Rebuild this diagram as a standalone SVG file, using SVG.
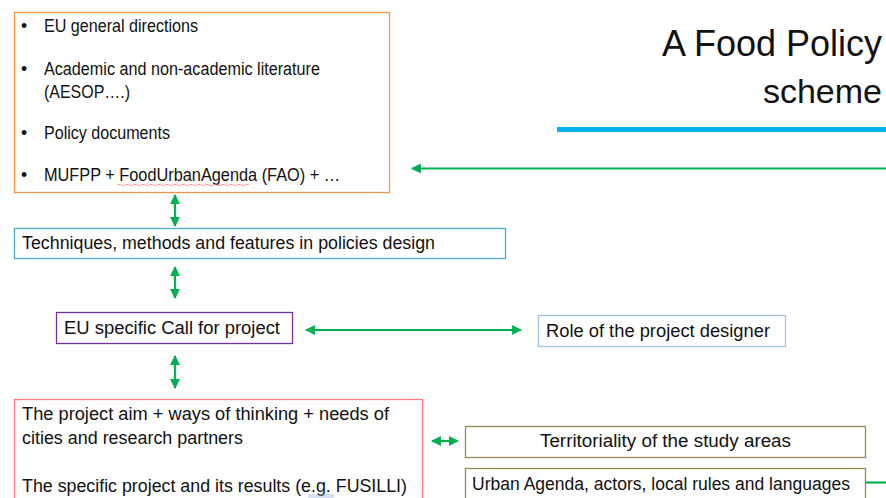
<svg xmlns="http://www.w3.org/2000/svg" width="886" height="498" viewBox="0 0 886 498">
<style>
text{font-family:"Liberation Sans","DejaVu Sans",sans-serif;font-size:17.5px;fill:#111}
.title{font-size:36px}
.box{fill:#fff;stroke-width:1.3}
.conn{stroke:#00B050;stroke-width:2.2;fill:none}
</style>
<defs>
<marker id="ah" viewBox="0 0 10 10" refX="9" refY="5" markerWidth="4.5" markerHeight="4.5" orient="auto-start-reverse" markerUnits="strokeWidth">
<path d="M0,0 L10,5 L0,10 z" fill="#00B050"/>
</marker>
</defs>
<rect width="886" height="498" fill="#fff"/>

<g id="title">
<text class="title" text-anchor="end"><tspan x="882" y="56">A Food Policy</tspan><tspan x="882" y="103" font-size="34">scheme</tspan></text>
<rect x="557" y="127" width="329" height="5" fill="#00B0F0"/>
</g>

<g id="sources">
<rect class="box" x="14.5" y="12.5" width="375" height="180" stroke="#F79646"/>
<text x="21" y="32">•</text><text x="44" y="32" textLength="154" lengthAdjust="spacingAndGlyphs">EU general directions</text>
<text x="21" y="75">•</text><text x="44" y="75" textLength="276" lengthAdjust="spacingAndGlyphs">Academic and non-academic literature</text>
<text x="44" y="98" textLength="86" lengthAdjust="spacingAndGlyphs">(AESOP….)</text>
<text x="21" y="139">•</text><text x="44" y="139" textLength="126" lengthAdjust="spacingAndGlyphs">Policy documents</text>
<text x="21" y="181">•</text><text x="44" y="181" textLength="296" lengthAdjust="spacingAndGlyphs">MUFPP + FoodUrbanAgenda (FAO) + …</text>
<path d="M117,185 q2,-1.5 4,0 t4,0 t4,0 t4,0 t4,0 t4,0 t4,0 t4,0 t4,0 t4,0 t4,0 t4,0 t4,0 t4,0 t4,0 t4,0 t4,0 t4,0 t4,0 t4,0 t4,0 t4,0 t4,0 t4,0 t4,0 t4,0 t4,0 t4,0 t4,0 t4,0 t4,0 t4,0 t4,0" stroke="#f08080" stroke-width="0.8" fill="none"/>
</g>

<g id="techniques">
<rect class="box" x="14.5" y="228.5" width="491" height="30" stroke="#4BACC6"/>
<text x="22" y="249" textLength="413" lengthAdjust="spacingAndGlyphs">Techniques, methods and features in policies design</text>
</g>

<g id="call">
<rect class="box" x="56.5" y="312.5" width="236" height="31" stroke="#7030A0" stroke-width="2"/>
<text x="64" y="334" textLength="216" lengthAdjust="spacingAndGlyphs">EU specific Call for project</text>
</g>

<g id="designer">
<rect class="box" x="538.5" y="315.5" width="247" height="31" stroke="#9DC3E6"/>
<text x="546" y="337" textLength="224" lengthAdjust="spacingAndGlyphs">Role of the project designer</text>
</g>

<g id="project">
<rect class="box" x="14.5" y="399.5" width="408" height="110" stroke="#FF7C80"/>
<text x="22" y="420" textLength="367" lengthAdjust="spacingAndGlyphs">The project aim + ways of thinking + needs of</text>
<text x="22" y="444" textLength="221" lengthAdjust="spacingAndGlyphs">cities and research partners</text>
<text x="22" y="492" textLength="385" lengthAdjust="spacingAndGlyphs">The specific project and its results (e.g. FUSILLI)</text>
<path d="M308,495 h26 M308,497 h26" stroke="#8faadc" stroke-width="0.7"/>
</g>

<g id="territoriality">
<rect class="box" x="465.5" y="426.5" width="400" height="31" stroke="#948A54"/>
<text x="540" y="447" textLength="251" lengthAdjust="spacingAndGlyphs">Territoriality of the study areas</text>
</g>

<g id="urban">
<rect class="box" x="465.5" y="468.5" width="400" height="40" stroke="#948A54"/>
<text x="472" y="490" textLength="378" lengthAdjust="spacingAndGlyphs">Urban Agenda, actors, local rules and languages</text>
</g>

<g id="connectors">
<line class="conn" x1="886" y1="168.5" x2="412" y2="168.5" marker-end="url(#ah)"/>
<line class="conn" x1="175" y1="195" x2="175" y2="226" marker-start="url(#ah)" marker-end="url(#ah)"/>
<line class="conn" x1="175" y1="267" x2="175" y2="298" marker-start="url(#ah)" marker-end="url(#ah)"/>
<line class="conn" x1="306" y1="330" x2="521" y2="330" marker-start="url(#ah)" marker-end="url(#ah)"/>
<line class="conn" x1="175" y1="356" x2="175" y2="388" marker-start="url(#ah)" marker-end="url(#ah)"/>
<line class="conn" x1="432" y1="441" x2="458" y2="441" marker-start="url(#ah)" marker-end="url(#ah)"/>
<line class="conn" x1="866" y1="482.5" x2="886" y2="482.5"/>
</g>
</svg>
